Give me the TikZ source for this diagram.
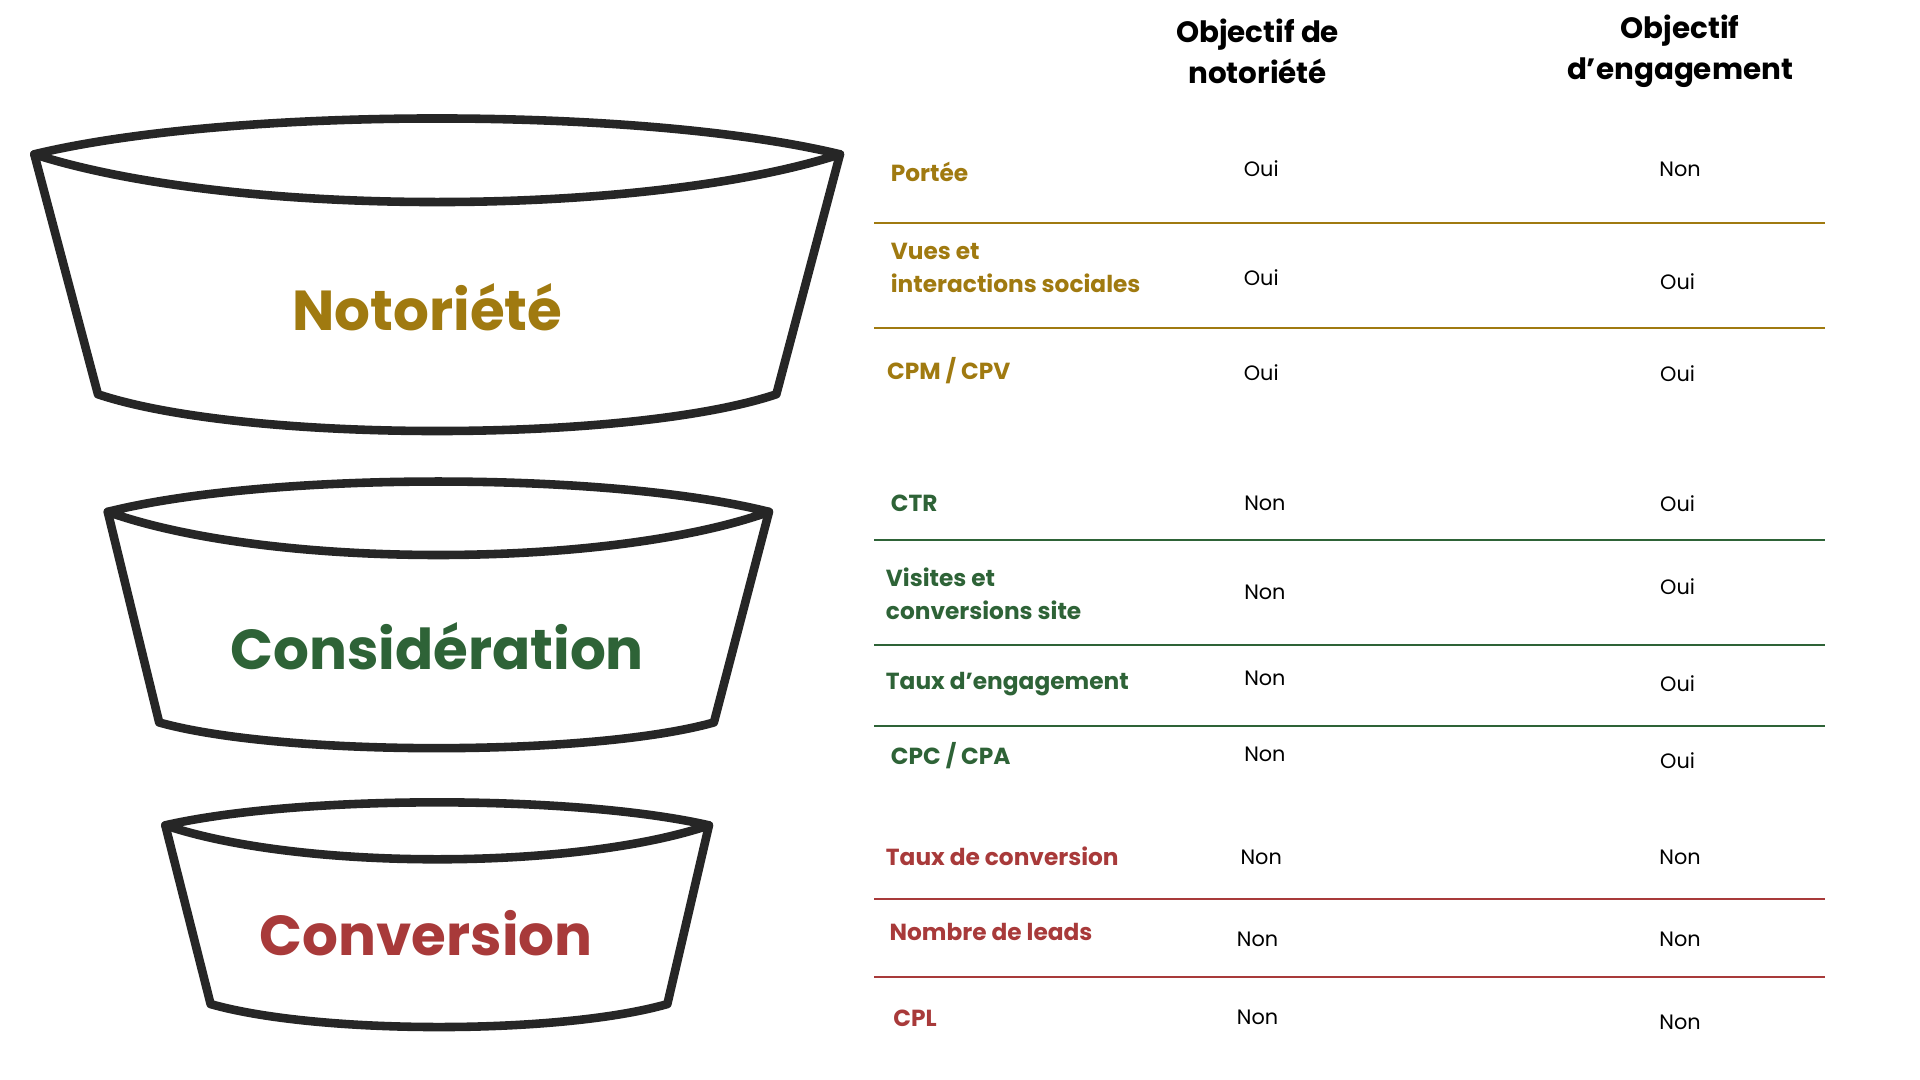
\documentclass[tikz,border=0pt]{standalone}
\usepackage{fontspec}
\setmainfont{Poppins}
\definecolor{gold}{HTML}{A07A10}
\definecolor{vert}{HTML}{2E6337}
\definecolor{rouge}{HTML}{A83A3A}
\definecolor{ink}{HTML}{262626}
\begin{document}
\begin{tikzpicture}[x=1pt,y=-1pt,
  funnel/.style={draw=ink,line width=7pt,line join=round,line cap=round},
  title/.style={font=\fontsize{46}{50}\selectfont\bfseries},
  lab/.style={anchor=west,align=left,font=\fontsize{19}{27}\selectfont\bfseries},
  val/.style={font=\fontsize{17}{20}\selectfont},
  head/.style={align=center,font=\fontsize{24}{34}\selectfont\bfseries},
  rule/.style={line width=1.5pt}]
\useasboundingbox[fill=white] (0,0) rectangle (1568,882);
% funnels
\draw[funnel] (28,126) .. controls (190,87) and (524,87) .. (686,126) .. controls (524,178) and (190,178) .. cycle;
\draw[funnel] (28,126) -- (80,322) .. controls (200,362) and (514,362) .. (634,322) -- (686,126);
\draw[funnel] (88,418) .. controls (220,385) and (496,385) .. (628,418) .. controls (496,465) and (220,465) .. cycle;
\draw[funnel] (88,418) -- (130,590) .. controls (230,618) and (483,618) .. (583,590) -- (628,418);
\draw[funnel] (135,674) .. controls (245,649) and (469,649) .. (579,674) .. controls (469,711) and (245,711) .. cycle;
\draw[funnel] (135,674) -- (172,820) .. controls (260,845) and (457,845) .. (545,820) -- (579,674);
\node[title,text=gold] (t1) at (349,251) {Notoriété};
\node[title,text=vert] (t2) at (357,528) {Considération};
\node[title,text=rouge] (t3) at (348,762) {Conversion};
% headers
\node[head] (h1) at (1027,42) {Objectif de\\notoriété};
\node[head] (h2) at (1372,42) {Objectif\\d’engagement};
% rules
\foreach \y in {182,268} \draw[rule,gold] (714,\y) -- (1490,\y);
\foreach \y in {441,527,593} \draw[rule,vert] (714,\y) -- (1490,\y);
\foreach \y in {734,798} \draw[rule,rouge] (714,\y) -- (1490,\y);
% labels
\begin{scope}[every node/.append style={text=gold}]
\node[lab] (l1) at (724,140) {Portée};
\node[lab] (l2) at (724,219) {Vues et\\interactions sociales};
\node[lab] (l3) at (721,303) {CPM / CPV};
\end{scope}
\begin{scope}[every node/.append style={text=vert}]
\node[lab] (l4) at (724,411) {CTR};
\node[lab] (l5) at (720,485) {Visites et\\conversions site};
\node[lab] (l6) at (720,559) {Taux d’engagement};
\node[lab] (l7) at (724,617) {CPC / CPA};
\end{scope}
\begin{scope}[every node/.append style={text=rouge}]
\node[lab] (l8) at (720,699) {Taux de conversion};
\node[lab] (l9) at (723,761) {Nombre de leads};
\node[lab] (l10) at (726,832) {CPL};
\end{scope}
% values
\node[val] (a1) at (1030,138) {Oui};  \node[val] (b1) at (1372,138) {Non};
\node[val] (a2) at (1030,227) {Oui};  \node[val] (b2) at (1370,230) {Oui};
\node[val] (a3) at (1030,304) {Oui};  \node[val] (b3) at (1370,305) {Oui};
\node[val] (a4) at (1033,411) {Non};  \node[val] (b4) at (1370,411) {Oui};
\node[val] (a5) at (1033,484) {Non};  \node[val] (b5) at (1370,479) {Oui};
\node[val] (a6) at (1033,554) {Non};  \node[val] (b6) at (1370,558) {Oui};
\node[val] (a7) at (1033,616) {Non};  \node[val] (b7) at (1370,621) {Oui};
\node[val] (a8) at (1030,700) {Non};  \node[val] (b8) at (1372,700) {Non};
\node[val] (a9) at (1027,767) {Non};  \node[val] (b9) at (1372,767) {Non};
\node[val] (a10) at (1027,831) {Non}; \node[val] (b10) at (1372,835) {Non};
\end{tikzpicture}
\end{document}
